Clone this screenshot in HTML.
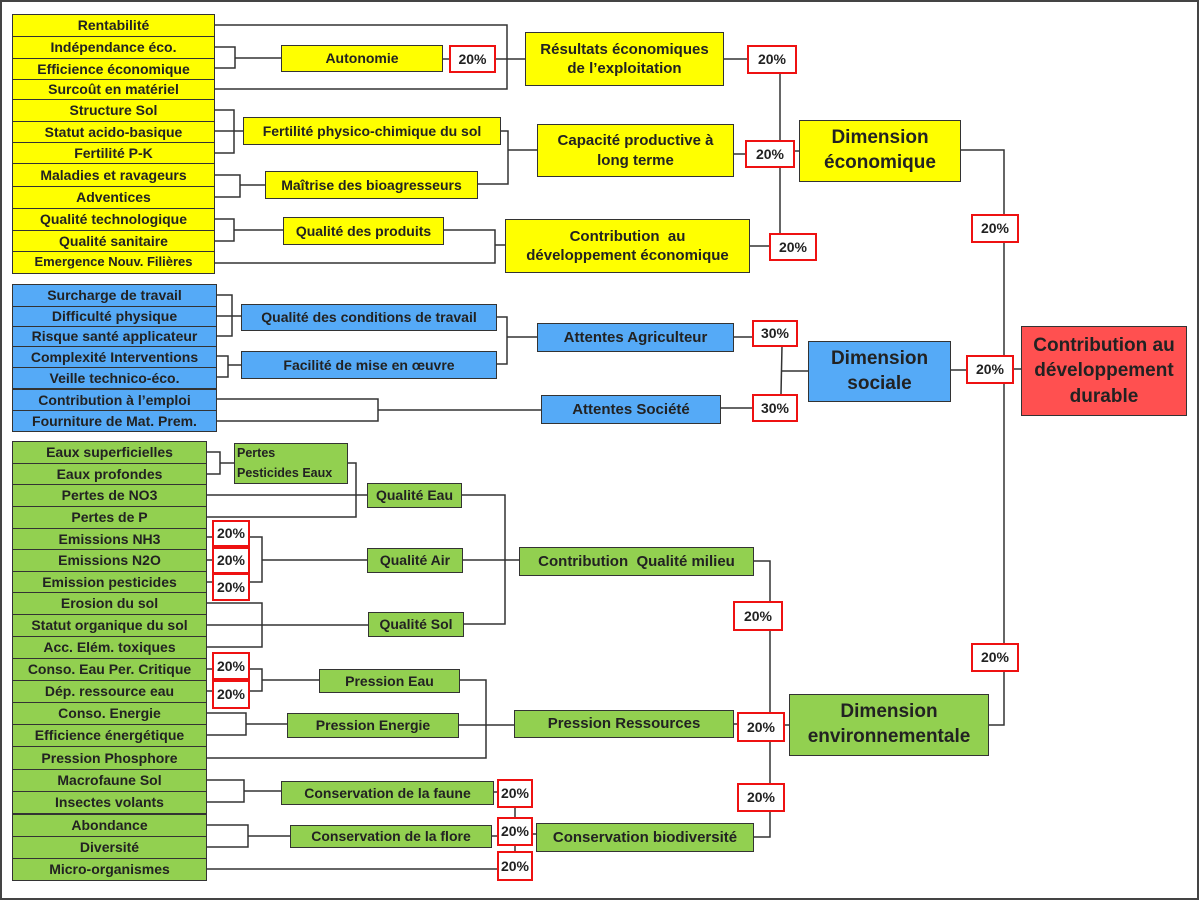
<!DOCTYPE html>
<html><head><meta charset="utf-8"><style>
body{margin:0;width:1199px;height:900px;background:#fff;position:relative;overflow:hidden;font-family:"Liberation Sans",sans-serif;}
.f{position:absolute;box-sizing:border-box;border:1.5px solid #333;display:flex;align-items:center;justify-content:center;text-align:center;font-weight:bold;font-size:14px;color:#222;white-space:nowrap;line-height:1.15;}
.y{background:#ffff00}.b{background:#55aaf7}.g{background:#92d050}.r{background:#fff;border:2px solid #ee1111;font-size:14px}
.big{font-size:19px;line-height:1.3}
svg{position:absolute;left:0;top:0}
</style></head><body>
<div style="position:absolute;left:0;top:0;width:1199px;height:900px;box-sizing:border-box;border:2px solid #444"></div>
<svg width="1199" height="900"><g fill="none" stroke="#333" stroke-width="1.5">
<polyline points="214,25 507,25 507,89 214,89"/>
<polyline points="214,47 235,47 235,68 214,68"/><line x1="235" y1="58" x2="281" y2="58"/>
<line x1="442" y1="59" x2="449" y2="59"/><line x1="496" y1="59" x2="525" y2="59"/>
<polyline points="214,110 234,110 234,153 214,153"/><line x1="214" y1="131" x2="243" y2="131"/>
<polyline points="500,131 508,131 508,184 477,184"/><line x1="508" y1="150" x2="537" y2="150"/>
<polyline points="214,175 240,175 240,197 214,197"/><line x1="240" y1="185" x2="265" y2="185"/>
<polyline points="214,219 234,219 234,241 214,241"/><line x1="234" y1="230" x2="283" y2="230"/>
<polyline points="443,230 495,230 495,263 214,263"/><line x1="495" y1="245" x2="505" y2="245"/>
<line x1="723" y1="59" x2="747" y2="59"/><line x1="780" y1="73" x2="780" y2="233"/>
<line x1="733" y1="154" x2="745" y2="154"/><line x1="795" y1="151" x2="799" y2="151"/>
<line x1="749" y1="246" x2="769" y2="246"/>
<polyline points="960,150 1004,150 1004,725 988,725"/>
<line x1="1013" y1="369" x2="1021" y2="369"/>
<polyline points="216,295 232,295 232,336 216,336"/><line x1="216" y1="316" x2="241" y2="316"/>
<polyline points="216,356 228,356 228,377 216,377"/><line x1="228" y1="365" x2="241" y2="365"/>
<polyline points="496,317 507,317 507,364 496,364"/><line x1="507" y1="337" x2="537" y2="337"/>
<polyline points="216,399 378,399 378,421 216,421"/><line x1="378" y1="410" x2="541" y2="410"/>
<line x1="733" y1="337" x2="752" y2="337"/><line x1="720" y1="408" x2="752" y2="408"/>
<line x1="782" y1="346" x2="781" y2="394"/><line x1="781" y1="371" x2="808" y2="371"/>
<line x1="950" y1="370" x2="966" y2="370"/>
<polyline points="206,452 220,452 220,474 206,474"/><line x1="220" y1="463" x2="234" y2="463"/>
<polyline points="347,463 356,463 356,517 206,517"/><line x1="206" y1="495" x2="367" y2="495"/>
<polyline points="461,495 505,495 505,624 463,624"/><line x1="462" y1="560" x2="519" y2="560"/>
<line x1="206" y1="537" x2="212" y2="537"/><line x1="206" y1="560" x2="212" y2="560"/><line x1="206" y1="582" x2="212" y2="582"/>
<polyline points="250,537 262,537 262,582 250,582"/><line x1="262" y1="560" x2="367" y2="560"/>
<polyline points="206,603 262,603 262,647 206,647"/><line x1="206" y1="625" x2="368" y2="625"/>
<polyline points="753,561 770,561 770,601"/><line x1="770" y1="631" x2="770" y2="712"/><line x1="770" y1="742" x2="770" y2="783"/><polyline points="770,812 770,837 753,837"/>
<line x1="733" y1="724" x2="737" y2="724"/><line x1="785" y1="725" x2="789" y2="725"/>
<line x1="206" y1="669" x2="212" y2="669"/><line x1="206" y1="691" x2="212" y2="691"/>
<polyline points="250,669 262,669 262,691 250,691"/><line x1="262" y1="680" x2="319" y2="680"/>
<polyline points="459,680 486,680 486,758 206,758"/><line x1="458" y1="725" x2="514" y2="725"/>
<polyline points="206,713 246,713 246,735 206,735"/><line x1="246" y1="724" x2="287" y2="724"/>
<polyline points="206,780 244,780 244,802 206,802"/><line x1="244" y1="791" x2="281" y2="791"/>
<line x1="493" y1="792" x2="497" y2="792"/>
<polyline points="206,825 248,825 248,847 206,847"/><line x1="248" y1="836" x2="290" y2="836"/>
<line x1="491" y1="836" x2="497" y2="836"/><line x1="206" y1="869" x2="497" y2="869"/>
<line x1="515" y1="808" x2="515" y2="817"/><line x1="515" y1="846" x2="515" y2="851"/>
<line x1="533" y1="834" x2="536" y2="834"/>
</g></svg>

<div class="f y" style="left:12px;top:14px;width:203px;height:23px">Rentabilité</div>
<div class="f y" style="left:12px;top:36px;width:203px;height:23px">Indépendance éco.</div>
<div class="f y" style="left:12px;top:58px;width:203px;height:22px">Efficience économique</div>
<div class="f y" style="left:12px;top:79px;width:203px;height:21px">Surcoût en matériel</div>
<div class="f y" style="left:12px;top:99px;width:203px;height:23px">Structure Sol</div>
<div class="f y" style="left:12px;top:121px;width:203px;height:22px">Statut acido-basique</div>
<div class="f y" style="left:12px;top:142px;width:203px;height:22px">Fertilité P-K</div>
<div class="f y" style="left:12px;top:163px;width:203px;height:24px">Maladies et ravageurs</div>
<div class="f y" style="left:12px;top:186px;width:203px;height:23px">Adventices</div>
<div class="f y" style="left:12px;top:208px;width:203px;height:23px">Qualité technologique</div>
<div class="f y" style="left:12px;top:230px;width:203px;height:22px">Qualité sanitaire</div>
<div class="f y" style="left:12px;top:251px;width:203px;height:23px;font-size:13px">Emergence Nouv. Filières</div>

<div class="f y" style="left:281px;top:45px;width:162px;height:27px">Autonomie</div>
<div class="f r" style="left:449px;top:45px;width:47px;height:28px">20%</div>
<div class="f y big" style="left:525px;top:32px;width:199px;height:54px;font-size:15px">Résultats économiques<br>de l’exploitation</div>
<div class="f y" style="left:243px;top:117px;width:258px;height:28px">Fertilité physico-chimique du sol</div>
<div class="f y" style="left:265px;top:171px;width:213px;height:28px">Maîtrise des bioagresseurs</div>
<div class="f y" style="left:283px;top:217px;width:161px;height:28px">Qualité des produits</div>
<div class="f y big" style="left:537px;top:124px;width:197px;height:53px;font-size:15px">Capacité productive à<br>long terme</div>
<div class="f y big" style="left:505px;top:219px;width:245px;height:54px;font-size:15px">Contribution &nbsp;au<br>développement économique</div>
<div class="f r" style="left:747px;top:45px;width:50px;height:29px">20%</div>
<div class="f r" style="left:745px;top:140px;width:50px;height:28px">20%</div>
<div class="f r" style="left:769px;top:233px;width:48px;height:28px">20%</div>
<div class="f y big" style="left:799px;top:120px;width:162px;height:62px">Dimension<br>économique</div>
<div class="f r" style="left:971px;top:214px;width:48px;height:29px">20%</div>

<div class="f b" style="left:12px;top:284px;width:205px;height:23px">Surcharge de travail</div>
<div class="f b" style="left:12px;top:306px;width:205px;height:21px">Difficulté physique</div>
<div class="f b" style="left:12px;top:326px;width:205px;height:21px">Risque santé applicateur</div>
<div class="f b" style="left:12px;top:346px;width:205px;height:22px">Complexité Interventions</div>
<div class="f b" style="left:12px;top:367px;width:205px;height:22px">Veille technico-éco.</div>
<div class="f b" style="left:12px;top:389px;width:205px;height:22px">Contribution à l’emploi</div>
<div class="f b" style="left:12px;top:410px;width:205px;height:22px">Fourniture de Mat. Prem.</div>
<div class="f b" style="left:241px;top:304px;width:256px;height:27px">Qualité des conditions de travail</div>
<div class="f b" style="left:241px;top:351px;width:256px;height:28px">Facilité de mise en œuvre</div>
<div class="f b" style="left:537px;top:323px;width:197px;height:29px;font-size:15px">Attentes Agriculteur</div>
<div class="f b" style="left:541px;top:395px;width:180px;height:29px;font-size:15px">Attentes Société</div>
<div class="f r" style="left:752px;top:320px;width:46px;height:27px">30%</div>
<div class="f r" style="left:752px;top:394px;width:46px;height:28px">30%</div>
<div class="f b big" style="left:808px;top:341px;width:143px;height:61px">Dimension<br>sociale</div>
<div class="f r" style="left:966px;top:355px;width:48px;height:29px">20%</div>
<div class="f big" style="left:1021px;top:326px;width:166px;height:90px;background:#ff5050;line-height:1.35">Contribution au<br>développement<br>durable</div>

<div class="f g" style="left:12px;top:441px;width:195px;height:23px">Eaux superficielles</div>
<div class="f g" style="left:12px;top:463px;width:195px;height:22px">Eaux profondes</div>
<div class="f g" style="left:12px;top:484px;width:195px;height:23px">Pertes de NO3</div>
<div class="f g" style="left:12px;top:506px;width:195px;height:23px">Pertes de P</div>
<div class="f g" style="left:12px;top:528px;width:195px;height:22px">Emissions NH3</div>
<div class="f g" style="left:12px;top:549px;width:195px;height:23px">Emissions N2O</div>
<div class="f g" style="left:12px;top:571px;width:195px;height:22px">Emission pesticides</div>
<div class="f g" style="left:12px;top:592px;width:195px;height:23px">Erosion du sol</div>
<div class="f g" style="left:12px;top:614px;width:195px;height:23px">Statut organique du sol</div>
<div class="f g" style="left:12px;top:636px;width:195px;height:23px">Acc. Elém. toxiques</div>
<div class="f g" style="left:12px;top:658px;width:195px;height:23px">Conso. Eau Per. Critique</div>
<div class="f g" style="left:12px;top:680px;width:195px;height:23px">Dép. ressource eau</div>
<div class="f g" style="left:12px;top:702px;width:195px;height:23px">Conso. Energie</div>
<div class="f g" style="left:12px;top:724px;width:195px;height:23px">Efficience énergétique</div>
<div class="f g" style="left:12px;top:746px;width:195px;height:24px">Pression Phosphore</div>
<div class="f g" style="left:12px;top:769px;width:195px;height:23px">Macrofaune Sol</div>
<div class="f g" style="left:12px;top:791px;width:195px;height:23px">Insectes volants</div>
<div class="f g" style="left:12px;top:814px;width:195px;height:23px">Abondance</div>
<div class="f g" style="left:12px;top:836px;width:195px;height:23px">Diversité</div>
<div class="f g" style="left:12px;top:858px;width:195px;height:23px">Micro-organismes</div>

<div class="f r" style="left:212px;top:520px;width:38px;height:27px">20%</div>
<div class="f r" style="left:212px;top:547px;width:38px;height:27px">20%</div>
<div class="f r" style="left:212px;top:573px;width:38px;height:28px">20%</div>
<div class="f r" style="left:212px;top:652px;width:38px;height:28px">20%</div>
<div class="f r" style="left:212px;top:680px;width:38px;height:29px">20%</div>

<div class="f g" style="left:234px;top:443px;width:114px;height:41px;font-size:12.5px;justify-content:flex-start;text-align:left;padding-left:2px;line-height:1.55">Pertes<br>Pesticides Eaux</div>
<div class="f g" style="left:367px;top:483px;width:95px;height:25px">Qualité Eau</div>
<div class="f g" style="left:367px;top:548px;width:96px;height:25px">Qualité Air</div>
<div class="f g" style="left:368px;top:612px;width:96px;height:25px">Qualité Sol</div>
<div class="f g" style="left:519px;top:547px;width:235px;height:29px;font-size:15px">Contribution &nbsp;Qualité milieu</div>
<div class="f g" style="left:319px;top:669px;width:141px;height:24px">Pression Eau</div>
<div class="f g" style="left:287px;top:713px;width:172px;height:25px">Pression Energie</div>
<div class="f g" style="left:514px;top:710px;width:220px;height:28px;font-size:15px">Pression Ressources</div>
<div class="f g" style="left:281px;top:781px;width:213px;height:24px">Conservation de la faune</div>
<div class="f g" style="left:290px;top:825px;width:202px;height:23px">Conservation de la flore</div>
<div class="f g" style="left:536px;top:823px;width:218px;height:29px;font-size:15px">Conservation biodiversité</div>
<div class="f r" style="left:497px;top:779px;width:36px;height:29px">20%</div>
<div class="f r" style="left:497px;top:817px;width:36px;height:29px">20%</div>
<div class="f r" style="left:497px;top:851px;width:36px;height:30px">20%</div>
<div class="f r" style="left:733px;top:601px;width:50px;height:30px">20%</div>
<div class="f r" style="left:737px;top:712px;width:48px;height:30px">20%</div>
<div class="f r" style="left:737px;top:783px;width:48px;height:29px">20%</div>
<div class="f g big" style="left:789px;top:694px;width:200px;height:62px">Dimension<br>environnementale</div>
<div class="f r" style="left:971px;top:643px;width:48px;height:29px">20%</div>
</body></html>
